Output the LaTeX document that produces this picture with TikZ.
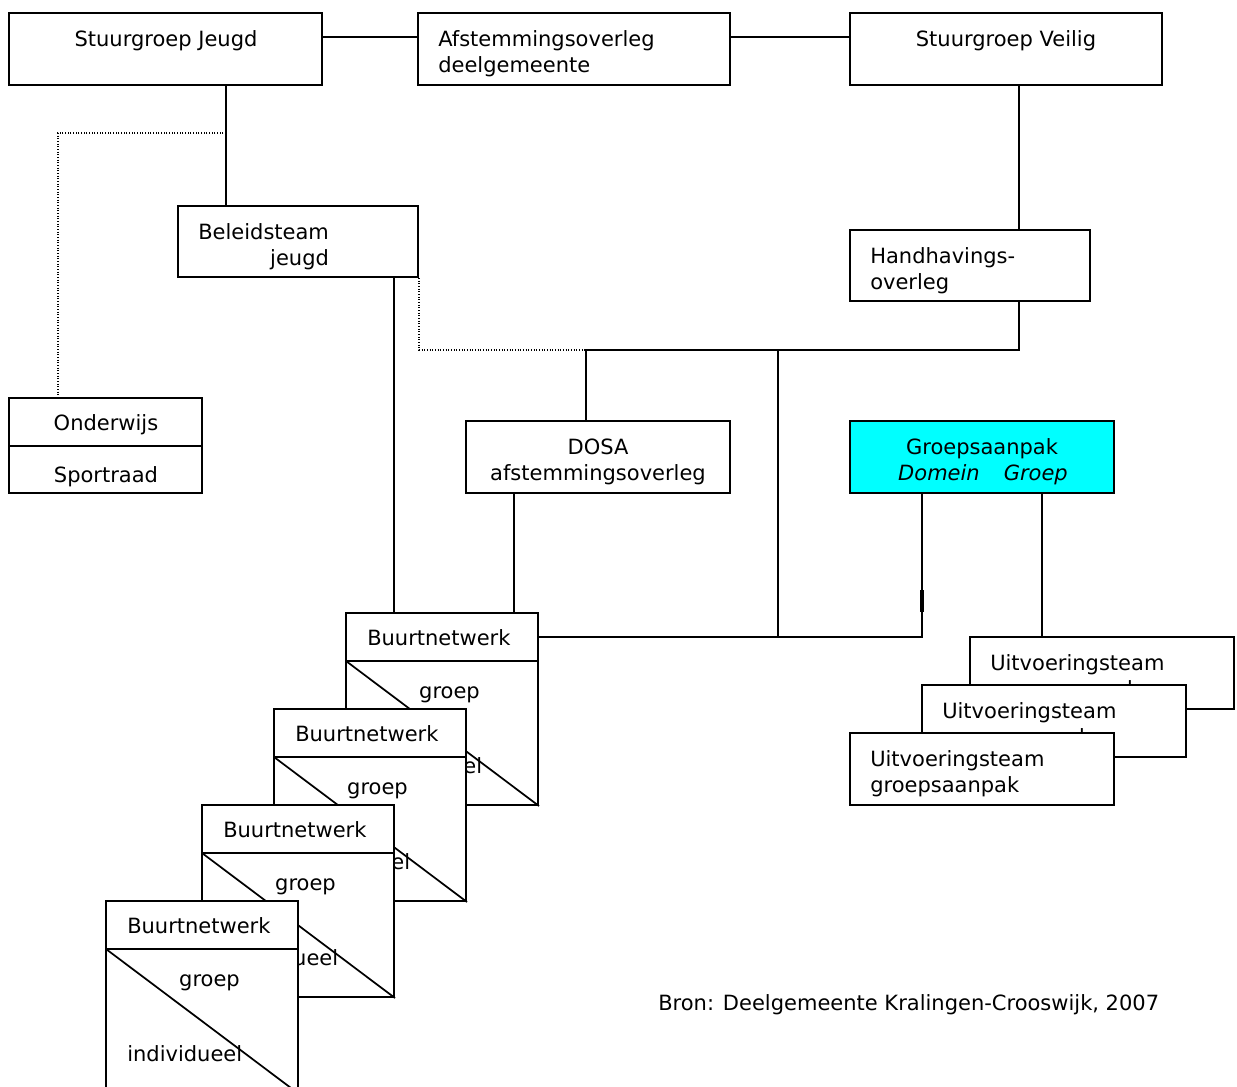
\documentclass[tikz,border=0pt]{standalone}
\usepackage{fontspec}
\setmainfont{DejaVu Sans}
\usetikzlibrary{fit}
\definecolor{aqua}{RGB}{0,255,255}
\begin{document}
\begin{tikzpicture}[x=0.75pt,y=-0.75pt,
  box/.style={draw, line width=1.5pt, fill=white, inner sep=0pt},
  lbl/.style={inner sep=0pt, font=\fontsize{15.75pt}{19.5pt}\selectfont},
  conn/.style={line width=1.4pt},
  dots/.style={line width=0.9pt, dash pattern=on 0.8pt off 1.2pt}]
\useasboundingbox (0,0) rectangle (1237,1086);
\clip (0,0) rectangle (1237,1086);

% top row
\node[box, fit={(9,13) (322,85)}] (sj) {};
\node[lbl, anchor=base] (sjt) at (166,46) {Stuurgroep Jeugd};
\node[box, fit={(418,13) (730,85)}] (af) {};
\node[lbl, anchor=base west] (aft1) at (438,46) {Afstemmingsoverleg};
\node[lbl, anchor=base west] (aft2) at (438,72) {deelgemeente};
\node[box, fit={(850,13) (1162,85)}] (sv) {};
\node[lbl, anchor=base] (svt) at (1006,46) {Stuurgroep Veilig};

% second level
\node[box, fit={(178,206) (418,277)}] (bj) {};
\node[lbl, anchor=base west] (bjt1) at (198,239) {Beleidsteam};
\node[lbl, anchor=base east] (bjt2) at (bjt1.base east |- 0,265) {jeugd};
\node[box, fit={(850,230) (1090,301)}] (hh) {};
\node[lbl, anchor=base west] (hht1) at (870,263) {Handhavings-};
\node[lbl, anchor=base west] (hht2) at (870,289) {overleg};

% Onderwijs / Sportraad
\node[box, fit={(9,398) (202,493)}] (ow) {};
\coordinate (owd) at (9,446);
\draw[line width=1.5pt] (owd) -- (owd -| ow.east);
\node[lbl, anchor=base] (owt1) at (106,430) {Onderwijs};
\node[lbl, anchor=base] (owt2) at (106,482) {Sportraad};

% DOSA and Groepsaanpak
\node[box, fit={(466,421) (730,493)}] (dosa) {};
\node[lbl, anchor=base] (dosat1) at (598,454) {DOSA};
\node[lbl, anchor=base] (dosat2) at (598,480) {afstemmingsoverleg};
\node[box, fill=aqua, fit={(850,421) (1114,493)}] (ga) {};
\node[lbl, anchor=base] (gat1) at (982,454) {Groepsaanpak};
\node[lbl, anchor=base] (gat2) at (983,480) {\itshape Domein\hspace{18pt}Groep};

% Uitvoeringsteams (stacked)
\foreach \i/\x/\y in {1/970/637,2/922/685,3/850/733}{
  \node[box, fit={(\x,\y) (\x+264,\y+72)}] (ut\i) {};
  \node[lbl, anchor=base west] (utt\i) at (\x+20,\y+33) {Uitvoeringsteam};
  \node[lbl, anchor=base west] (utg\i) at (\x+20,\y+59) {groepsaanpak};
}

% Buurtnetwerken (stacked)
\foreach \i/\x/\y in {1/346/613,2/274/709,3/202/805,4/106/901}{
  \node[box, fit={(\x,\y) (\x+192,\y+192)}] (bn\i) {};
  \coordinate (bh\i) at (\x,\y+48);
  \draw[line width=1.5pt] (bh\i) -- (bh\i -| bn\i.east);
  \draw[line width=1.3pt] (bh\i) -- (bn\i.south east);
  \node[lbl, anchor=base west] (bnt\i) at (\x+21,\y+32) {Buurtnetwerk};
  \node[lbl, anchor=base] (bng\i) at (\x+103.5,\y+85) {groep};
  \node[lbl, anchor=base west] (bni\i) at (\x+21,\y+160) {individueel};
}

% connectors
\draw[conn] (sj.east |- 0,37) -- (af.west |- 0,37);
\draw[conn] (af.east |- 0,37) -- (sv.west |- 0,37);
\coordinate (jA) at (226,133);
\draw[conn] (sj.south -| jA) -- (bj.north -| jA);
\draw[dots] (jA) -| (ow.north -| 58,0);
\draw[conn] (bj.south -| 394,0) -- (bn1.north -| 394,0);
\coordinate (hubL) at (586,350);
\coordinate (hubM) at (778,350);
\coordinate (hubB) at (778,637);
\draw[dots] (bj.south east) |- (hubL);
\draw[conn] (sv.south -| 1019,0) -- (hh.north -| 1019,0);
\draw[conn] (hh.south -| 1019,0) |- (hubL) -- (dosa.north -| hubL);
\draw[conn] (hubM) -- (hubB);
\draw[conn] (dosa.south -| 514,0) -- (bn1.north -| 514,0);
\coordinate (gaL) at (922,637);
\draw[conn] (bn1.east |- gaL) -- (gaL) -- (ga.south -| gaL);
\draw[line width=2.4pt] (922,590) -- (922,612);
\draw[conn] (ga.south -| 1042,0) -- (ut1.north -| 1042,0);

% source
\node[lbl, anchor=base west] (bron) at (658,1010) {Bron: Deelgemeente Kralingen-Crooswijk, 2007};
\end{tikzpicture}
\end{document}
